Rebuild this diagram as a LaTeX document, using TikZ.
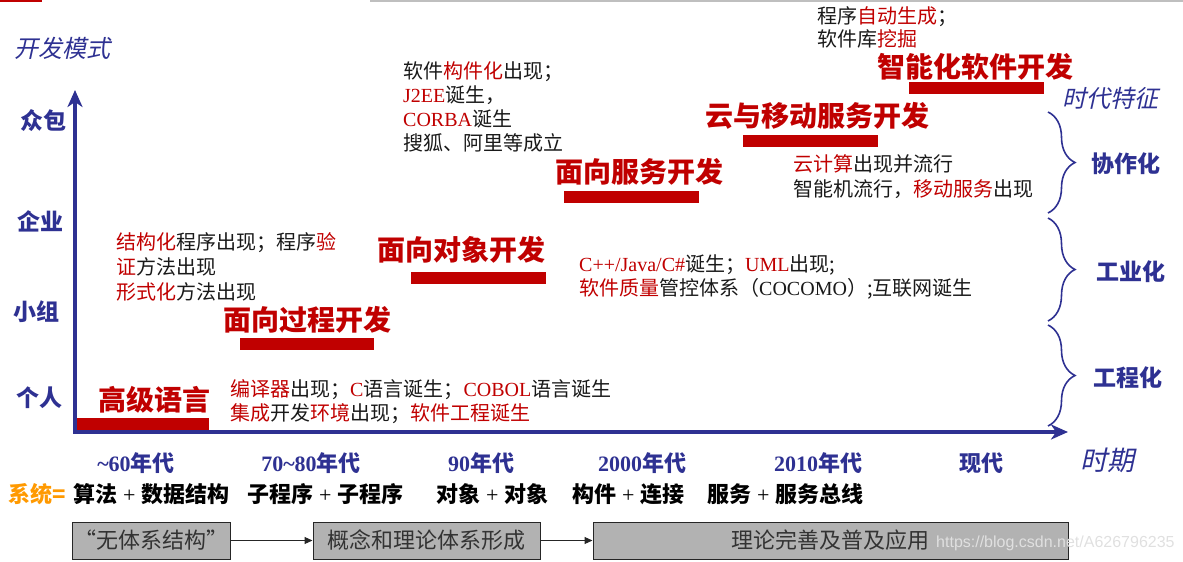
\documentclass[tikz,border=0pt]{standalone}
\usepackage{fontspec}
\setmainfont{Noto Sans CJK SC}
\newfontfamily\lat{Liberation Serif}
\newfontfamily\slcjk{Noto Sans CJK SC}[FakeSlant=0.22]
\newfontfamily\wmfont{Liberation Sans}
\usetikzlibrary{arrows.meta,decorations.pathreplacing}
\definecolor{tred}{RGB}{192,0,0}
\definecolor{tblue}{RGB}{46,49,146}
\definecolor{torange}{RGB}{255,153,0}
\definecolor{boxgray}{RGB}{178,178,178}
\newcommand\rd[1]{\textcolor{tred}{#1}}
\newcommand\pl{\hspace{6pt}{\lat\mdseries+}\hspace{6pt}}
\tikzset{
  axis/.style={line width=4pt,tblue,{Stealth[length=17pt,width=15pt,inset=5pt]}-{Stealth[length=17pt,width=15pt,inset=5pt]}},
  level/.style={text=tblue,font=\fontsize{23}{23}\selectfont\bfseries,anchor=west,inner sep=0pt},
  axlabel/.style={text=tblue,font=\fontsize{24}{24}\selectfont\slcjk,anchor=west,inner sep=0pt},
  title/.style={text=tred,font=\fontsize{28}{28}\selectfont\bfseries,anchor=west,inner sep=0pt},
  note/.style={font=\fontsize{20}{24}\selectfont,text=black!90,anchor=north west,align=left,inner sep=0pt},
  bar/.style={fill=tred},
  era/.style={text=tblue,font=\fontsize{22}{22}\selectfont\bfseries,inner sep=0pt},
  sysrow/.style={font=\fontsize{22}{22}\selectfont\bfseries,anchor=west,inner sep=0pt},
  stage/.style={draw=black!85,fill=boxgray,line width=1pt,minimum height=37pt,font=\fontsize{22}{22}\selectfont,text=black!80,inner sep=0pt},
  flow/.style={black!85,line width=1pt,-{Triangle[length=8pt,width=7pt]}},
  brc/.style={decorate,decoration={brace,amplitude=27pt},tblue,line width=1.6pt},
}
\begin{document}
\begin{tikzpicture}[x=1pt,y=-1pt]
\useasboundingbox (0,0) rectangle (1183,562);
% slide edges
\draw[tred,line width=2pt] (0,1) -- (42,1);
\draw[black!25,line width=2pt] (370,1) -- (1183,1);

% axes
\coordinate (O) at (75,432);
\coordinate (ytop) at (75,90);
\coordinate (xend) at (1068,432);
\draw[axis] (ytop) -- (O) -- (xend);
\node[axlabel] (ymode) at (14,48) {开发模式};
\node[axlabel,font=\fontsize{27}{27}\selectfont\slcjk] (period) at (1080,460) {时期};
\node[axlabel] (feature) at (1062,98) {时代特征};

% development modes
\node[level] (crowd) at (20,121) {众包};
\node[level] (corp) at (17,221) {企业};
\node[level] (group) at (13,312) {小组};
\node[level] (single) at (16,398) {个人};

% stages of development
\node[title] (hll) at (98,400) {高级语言};
\fill[bar] (77,418) rectangle (209,430);
\node[title] (proc) at (223,320) {面向过程开发};
\fill[bar] (240,338) rectangle (374,350);
\node[title] (obj) at (377,250) {面向对象开发};
\fill[bar] (411,272) rectangle (546,284);
\node[title] (serv) at (555,172) {面向服务开发};
\fill[bar] (564,191) rectangle (699,203);
\node[title] (cloud) at (705,116) {云与移动服务开发};
\fill[bar] (743,135) rectangle (878,147);
\node[title] (smart) at (877,67) {智能化软件开发};
\fill[bar] (909,82) rectangle (1044,94);

% events
\node[note] (ev1) at (230,379) {\rd{编译器}出现；\rd{\lat C}语言诞生；\rd{\lat COBOL}语言诞生\\\rd{集成}开发\rd{环境}出现；\rd{软件工程诞生}};
\node[note,font=\fontsize{20}{25}\selectfont] (ev2) at (116,232) {\rd{结构化}程序出现；程序\rd{验}\\\rd{证}方法出现\\\rd{形式化}方法出现};
\node[note] (ev3) at (579,254) {\rd{\lat C++/Java/C\#}诞生；\rd{\lat UML}出现;\\\rd{软件质量}管控体系（{\lat COCOMO}）;互联网诞生};
\node[note] (ev4) at (403,61) {软件\rd{构件化}出现；\\\rd{\lat J2EE}诞生，\\\rd{\lat CORBA}诞生\\搜狐、阿里等成立};
\node[note,font=\fontsize{20}{25}\selectfont] (ev5) at (793,154) {\rd{云计算}出现并流行\\智能机流行，\rd{移动服务}出现};
\node[note,font=\fontsize{20}{23}\selectfont] (ev6) at (817,6) {程序\rd{自动生成}；\\软件库\rd{挖掘}};

% era features
\coordinate (b1t) at (1048,112);
\coordinate (b1b) at (1048,213);
\coordinate (b2t) at (1048,218);
\coordinate (b2b) at (1048,321);
\coordinate (b3t) at (1048,325);
\coordinate (b3b) at (1048,426);
\draw[brc] (b1t) -- (b1b);
\draw[brc] (b2t) -- (b2b);
\draw[brc] (b3t) -- (b3b);
\node[level] (coop) at (1091,164) {协作化};
\node[level] (indus) at (1096,272) {工业化};
\node[level] (engin) at (1093,378) {工程化};

% periods
\node[era] (e60) at (136,463) {{\lat\textasciitilde 60}年代};
\node[era] (e70) at (311,463) {{\lat 70\textasciitilde 80}年代};
\node[era] (e90) at (481,463) {{\lat 90}年代};
\node[era] (e00) at (642,463) {{\lat 2000}年代};
\node[era] (e10) at (818,463) {{\lat 2010}年代};
\node[era] (enow) at (981,463) {现代};

% system composition
\node[sysrow,text=torange] (sys) at (8,494) {系统=};
\node[sysrow] (c60) at (73,494) {算法\pl 数据结构};
\node[sysrow] (c70) at (247,494) {子程序\pl 子程序};
\node[sysrow] (c90) at (436,494) {对象\pl 对象};
\node[sysrow] (c00) at (572,494) {构件\pl 连接};
\node[sysrow] (c10) at (707,494) {服务\pl 服务总线};

% theory stages
\node[stage,minimum width=158pt] (st1) at (151,540.5) {“无体系结构”};
\node[stage,minimum width=227pt] (st2) at (426.5,540.5) {概念和理论体系形成};
\node[stage,minimum width=475pt] (st3) at (830.5,540.5) {理论完善及普及应用};
\draw[flow] (st1) -- (st2);
\draw[flow] (st2) -- (st3);
\node[font=\fontsize{16}{16}\selectfont\wmfont,text=black!12,anchor=west,inner sep=0pt] (url) at (936,543) {https://blog.csdn.net/A626796235};
\end{tikzpicture}
\end{document}
